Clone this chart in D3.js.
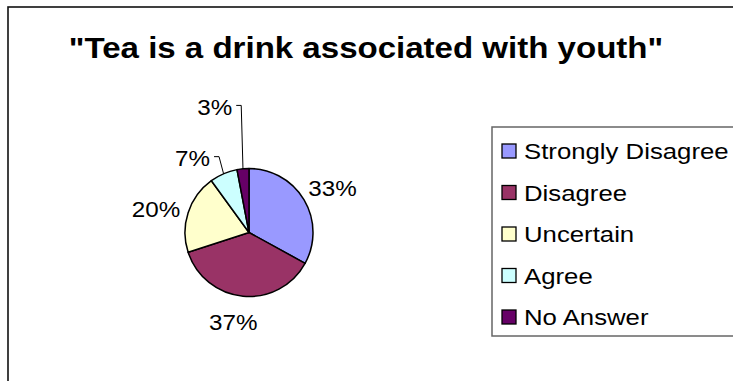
<!DOCTYPE html>
<html>
<head>
<meta charset="utf-8">
<script src="https://cdn.jsdelivr.net/npm/d3@7"></script>
<style>
  html, body { margin: 0; padding: 0; background: #fff; }
  svg { display: block; }
  text { font-family: "Liberation Sans", Arial, sans-serif; fill: #000; }
</style>
</head>
<body>
<svg id="chart" width="733" height="381"></svg>
<script>
// Survey answers
const categories = ["Strongly Disagree", "Disagree", "Uncertain", "Agree", "No Answer"];
const shares = [33, 37, 20, 7, 3];
const percentLabels = ["33%", "37%", "20%", "7%", "3%"];
const sliceColors = ["#9999FF", "#993366", "#FFFFCC", "#CCFFFF", "#660066"];
const titleText = "\"Tea is a drink associated with youth\"";

// Layout
const W = 733, H = 381;
const cx = 249, cy = 232.5, radius = 64, labelRadius = 93;
// label nudges from the centroid position, and whether a leader line is drawn
const labelNudge = [[3.5, 3.5], [-7, -3], [-4.6, 6], [-19.5, 11.5], [-25.5, -32.5]];
const hasLeader = [false, false, false, true, true];
const stretch = 1.1;

const svg = d3.select("#chart");

// chart frame (runs off the right and bottom)
svg.append("rect")
  .attr("x", 8).attr("y", 7).attr("width", W + 10).attr("height", H + 10)
  .attr("fill", "#fff").attr("stroke", "#111").attr("stroke-width", 1.6);

// stretched text helper
function stretchedText(g, x, y, str, size, weight, anchor, sx) {
  return g.append("text")
    .attr("transform", `translate(${x},${y}) scale(${sx},1)`)
    .attr("text-anchor", anchor)
    .attr("dominant-baseline", "central")
    .style("font-size", size + "px")
    .style("font-weight", weight)
    .text(str);
}

// title
stretchedText(svg, 366, 48, titleText, 29, "bold", "middle", 1.14);

// pie
const data = categories.map((c, i) => ({ cat: c, value: shares[i], label: percentLabels[i], color: sliceColors[i], i }));
const pie = d3.pie().value(d => d.value).sort(null);
const arcs = pie(data);
const arc = d3.arc().innerRadius(0).outerRadius(radius);
const labelArc = d3.arc().innerRadius(labelRadius).outerRadius(labelRadius);

const pg = svg.append("g").attr("transform", `translate(${cx},${cy})`);
pg.selectAll("path.slice").data(arcs).join("path")
  .attr("class", "slice")
  .attr("d", arc)
  .attr("fill", d => d.data.color)
  .attr("stroke", "#000")
  .attr("stroke-width", 1.5)
  .attr("stroke-linejoin", "round");

// percentage labels and leader lines
arcs.forEach((a, i) => {
  const c = labelArc.centroid(a);
  const lx = c[0] + labelNudge[i][0];
  const ly = c[1] + labelNudge[i][1];
  const t = stretchedText(pg, lx, ly, a.data.label, 22, "normal", "middle", stretch);
  if (hasLeader[i]) {
    const bb = t.node().getBBox();
    const halfW = bb.width * stretch / 2;
    const right = lx + halfW;
    const mid = (a.startAngle + a.endAngle) / 2;
    const edge = [radius * Math.sin(mid), -radius * Math.cos(mid)];
    const pts = [[right + 4, ly - 2], [right + 9, ly - 2], edge];
    pg.append("path")
      .attr("d", d3.line()(pts))
      .attr("fill", "none")
      .attr("stroke", "#000")
      .attr("stroke-width", 1);
  }
});

// legend
const lg = svg.append("g");
lg.append("rect")
  .attr("x", 492).attr("y", 127).attr("width", 260).attr("height", 209)
  .attr("fill", "#fff").attr("stroke", "#666").attr("stroke-width", 1.5);

const legendY = d3.scalePoint().domain(categories).range([151, 317]);
categories.forEach((c, i) => {
  const y = legendY(c);
  lg.append("rect")
    .attr("x", 502).attr("y", y - 7).attr("width", 14).attr("height", 14)
    .attr("fill", sliceColors[i]).attr("stroke", "#000").attr("stroke-width", 1.3);
  stretchedText(lg, 524, y, c, 23, "normal", "start", 1.12);
});
</script>
</body>
</html>
